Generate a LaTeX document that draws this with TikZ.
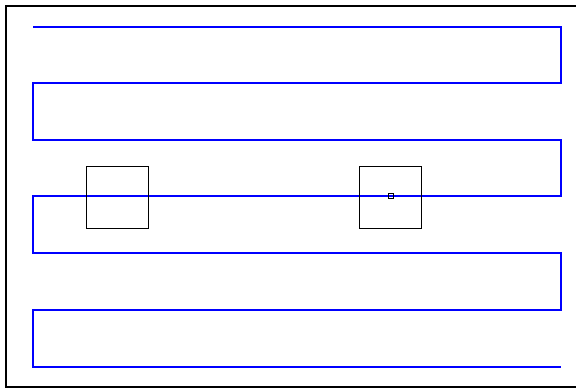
\documentclass[tikz,border=0pt]{standalone}
\usepackage{tikz}
\usetikzlibrary{calc}
\tikzset{
    path line/.style={draw=blue, line width=1.6pt},
    box/.style={draw=black, line width=0.7pt}}

\begin{document}
\begin{tikzpicture}[x=1pt,y=-1pt]
\useasboundingbox (0,0) rectangle (576,389);
\draw [line width=1.4pt] (6,6) rectangle (590,387);

\coordinate (A1) at (33,27) {};
\coordinate (B1) at (561,27) {};
\coordinate (B2) at (561,83) {};
\coordinate (A2) at (33,83) {};
\coordinate (A3) at (33,140) {};
\coordinate (B3) at (561,140) {};
\coordinate (B4) at (561,196) {};
\coordinate (A4) at (33,196) {};
\coordinate (A5) at (33,253) {};
\coordinate (B5) at (561,253) {};
\coordinate (B6) at (561,310) {};
\coordinate (A6) at (33,310) {};
\coordinate (A7) at (33,367) {};
\coordinate (B7) at (561,367) {};

\draw [path line] (A1) -- (B1) -- (B2) -- (A2) -- (A3) -- (B3) -- (B4) -- (A4) -- (A5) -- (B5) -- (B6) -- (A6) -- (A7) -- (B7);

\draw [box] (86,166) rectangle (148,228);
\draw [box] (359,166) rectangle (421,228);

%\draw [fill=white] (391,196) circle (2);
\draw [box, line width=0.6pt] (388.5,193.5) rectangle (393.5,198.5);
\end{tikzpicture}
\end{document}
